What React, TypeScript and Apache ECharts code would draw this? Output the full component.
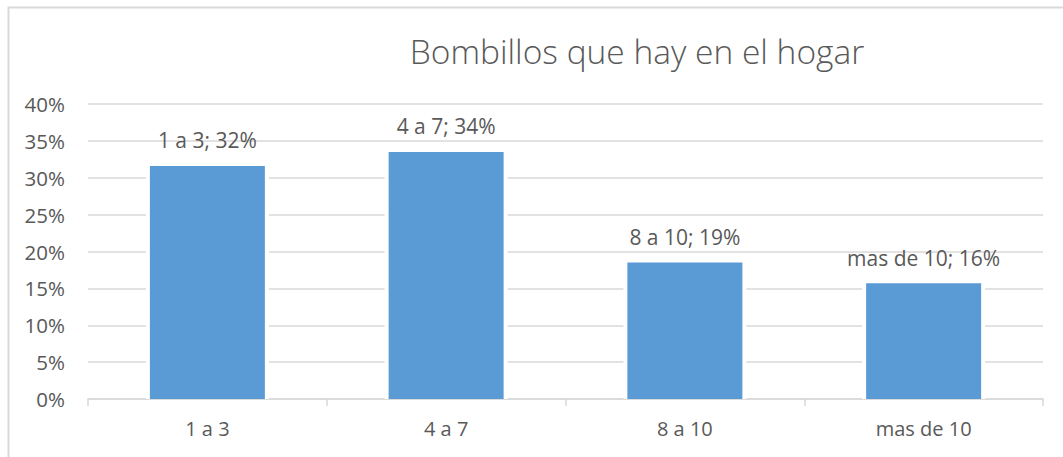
import React, { useEffect, useRef } from "react";
import * as echarts from "echarts";

const categories = ["1 a 3", "4 a 7", "8 a 10", "mas de 10"];
const values = [0.316, 0.335, 0.185, 0.157];
const labelPercents = ["32%", "34%", "19%", "16%"];
const yTicks = [0, 0.05, 0.1, 0.15, 0.2, 0.25, 0.3, 0.35, 0.4];
const title = "Bombillos que hay en el hogar";

const FONT = "'Open Sans', 'Noto Sans', sans-serif";
const TEXT = "#595959";
const GRID = "#d9d9d9";

export default function App() {
  const ref = useRef<HTMLDivElement>(null);
  useEffect(() => {
    document.body.style.margin = "0";
    const chart = echarts.init(ref.current!, null, { renderer: "svg" });
    chart.setOption({
      animation: false,
      backgroundColor: "#ffffff",
      title: {
        text: title,
        left: 632,
        textAlign: "center",
        top: 29,
        textStyle: { fontFamily: FONT, fontSize: 33.5, fontWeight: 300, color: TEXT },
      },
      graphic: [
        {
          type: "rect",
          left: 6,
          top: 5,
          shape: { width: 1200, height: 600 },
          style: { fill: "none", stroke: GRID, lineWidth: 2 },
          silent: true,
        },
      ],
      grid: { left: 88, right: 20, top: 104, bottom: 58, containLabel: false },
      xAxis: [
        {
          type: "category",
          data: categories,
          axisLine: { lineStyle: { color: GRID, width: 1.5 } },
          axisTick: { show: true, length: 7, lineStyle: { color: GRID, width: 1.5 } },
          axisLabel: { fontFamily: FONT, fontSize: 20, color: TEXT, margin: 19 },
        },
        {
          type: "category",
          data: categories,
          show: false,
        },
      ],
      yAxis: {
        type: "value",
        min: 0,
        max: yTicks[yTicks.length - 1],
        interval: yTicks[1] - yTicks[0],
        axisLine: { show: false },
        axisTick: { show: false },
        splitLine: { lineStyle: { color: GRID, width: 1.5 } },
        axisLabel: {
          fontFamily: FONT,
          fontSize: 20.5,
          color: TEXT,
          margin: 23,
          formatter: (v: number) => Math.round(v * 100) + "%",
        },
      },
      series: [
        {
          type: "bar",
          xAxisIndex: 1,
          data: values,
          barWidth: 123,
          itemStyle: { color: "#ffffff" },
          silent: true,
          z: 1,
        },
        {
          type: "bar",
          xAxisIndex: 0,
          data: values,
          barWidth: 115,
          itemStyle: { color: "#5b9bd5" },
          z: 2,
          label: {
            show: true,
            position: "top",
            distance: 15,
            fontFamily: FONT,
            fontSize: 21,
            color: TEXT,
            formatter: (p: any) => categories[p.dataIndex] + "; " + labelPercents[p.dataIndex],
          },
        },
      ],
    });
    return () => chart.dispose();
  }, []);
  return <div ref={ref} style={{ width: 1063, height: 457 }} />;
}
